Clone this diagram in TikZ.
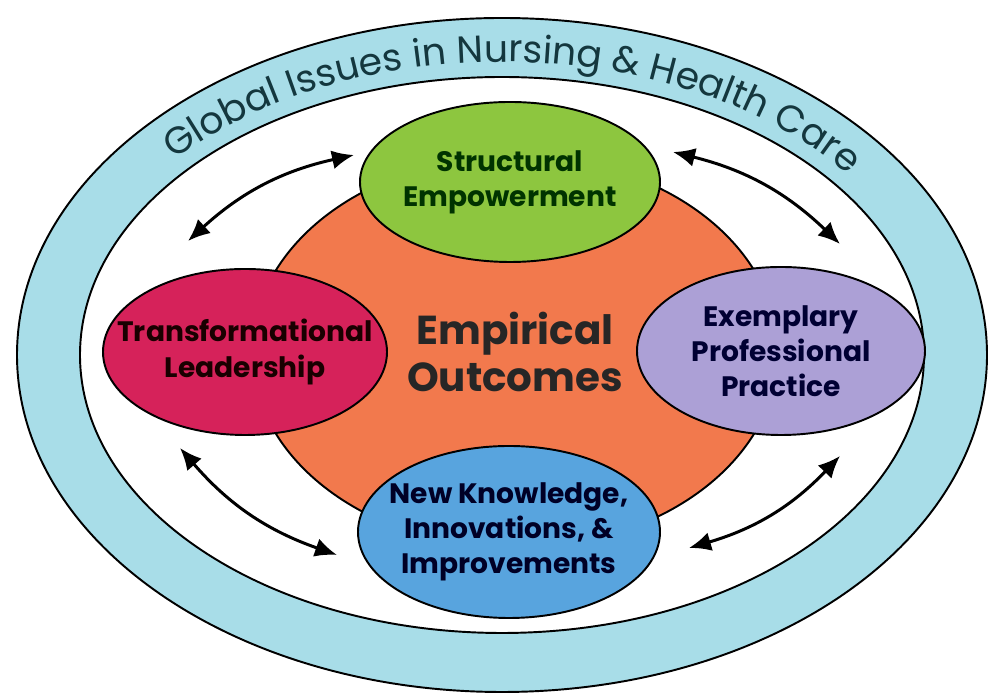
\documentclass[tikz,border=0pt]{standalone}
\usepackage{fontspec}
\setmainfont{Poppins}
\usepackage{tikz}
\usetikzlibrary{arrows.meta}
\usetikzlibrary{shapes,positioning,calc,decorations.text}

\definecolor{ringblue}{RGB}{168,221,232}
\definecolor{ringtext}{RGB}{20,55,62}
\definecolor{coreorange}{RGB}{242,121,77}
\definecolor{leafgreen}{RGB}{141,198,63}
\definecolor{leadred}{RGB}{214,34,90}
\definecolor{practpurple}{RGB}{172,160,214}
\definecolor{knowblue}{RGB}{88,164,222}

\begin{document}
\begin{tikzpicture}[
		bubble/.style={draw, ellipse, align=center, inner xsep=-2cm, inner ysep=-1cm, line width=1.1pt,
			font=\fontsize{16}{20}\selectfont\bfseries},
		link/.style={{Latex[length=4.4mm,width=3.8mm]}-{Latex[length=4.4mm,width=3.8mm]}, line width=1.7pt}
	]
			\useasboundingbox (0,0) rectangle (19.88,13.92);
			% the ring and the white field inside it
			\node[draw, ellipse, line width=1.1pt, fill=ringblue, minimum width=19.4cm, minimum height=13.48cm] (outer) at (10.04,6.82) {};
			\node[draw, ellipse, line width=1.1pt, fill=white, minimum width=16.88cm, minimum height=11.12cm] (inner) at (outer.center) {};
			\path[decorate, decoration={text along path, text align=center, text color=ringtext,
				text={|\fontsize{21.5}{21.5}\selectfont|Global Issues in Nursing {\&} Health Care}}]
				($ (outer.center) +(146:8.78 and 5.86) $) arc[start angle=146, end angle=30, x radius=8.78, y radius=5.86];
			% core and the four components
			\node[draw, ellipse, line width=1.1pt, fill=coreorange, minimum width=10.52cm, minimum height=7.84cm, align=center,
				inner xsep=-2cm, inner ysep=-1cm, font=\fontsize{23}{27}\selectfont\bfseries, text=black!85] (core) at (10.3,6.88) {Empirical\\ Outcomes};
			\node[bubble, fill=leafgreen, text=black!80!green, minimum width=6cm, minimum height=3.2cm] (green) at (10.2,10.28) {Structural\\ Empowerment};
			\node[bubble, fill=leadred, text=black!90!red, minimum width=5.68cm, minimum height=3.32cm] (red) at (4.9,6.88) {Transformational\\ Leadership};
			\node[bubble, fill=practpurple, text=black!80!blue, minimum width=5.76cm, minimum height=3.36cm] (purple) at (15.62,6.9) {Exemplary\\ Professional\\ Practice};
			\node[bubble, fill=knowblue, text=black!85!blue, minimum width=6.04cm, minimum height=3.44cm] (blue) at (10.18,3.28) {New Knowledge,\\ Innovations, \&\\ Improvements};
			% arrows between the components
			\draw[link] ($ (green.west) +(-0.1,0.54) $) to[bend right=15] ($ (red.north) +(-1.14,0.54) $);
			\draw[link] ($ (green.east) +(0.24,0.6) $) to[bend left=15] ($ (purple.north) +(1.18,0.44) $);
			\draw[link] ($ (red.south) +(-1.3,-0.24) $) to[bend right=15] ($ (blue.west) +(-0.4,-0.46) $);
			\draw[link] ($ (blue.east) +(0.56,-0.32) $) to[bend right=15] ($ (purple.south) +(1.18,-0.4) $);
		\end{tikzpicture}
\end{document}
